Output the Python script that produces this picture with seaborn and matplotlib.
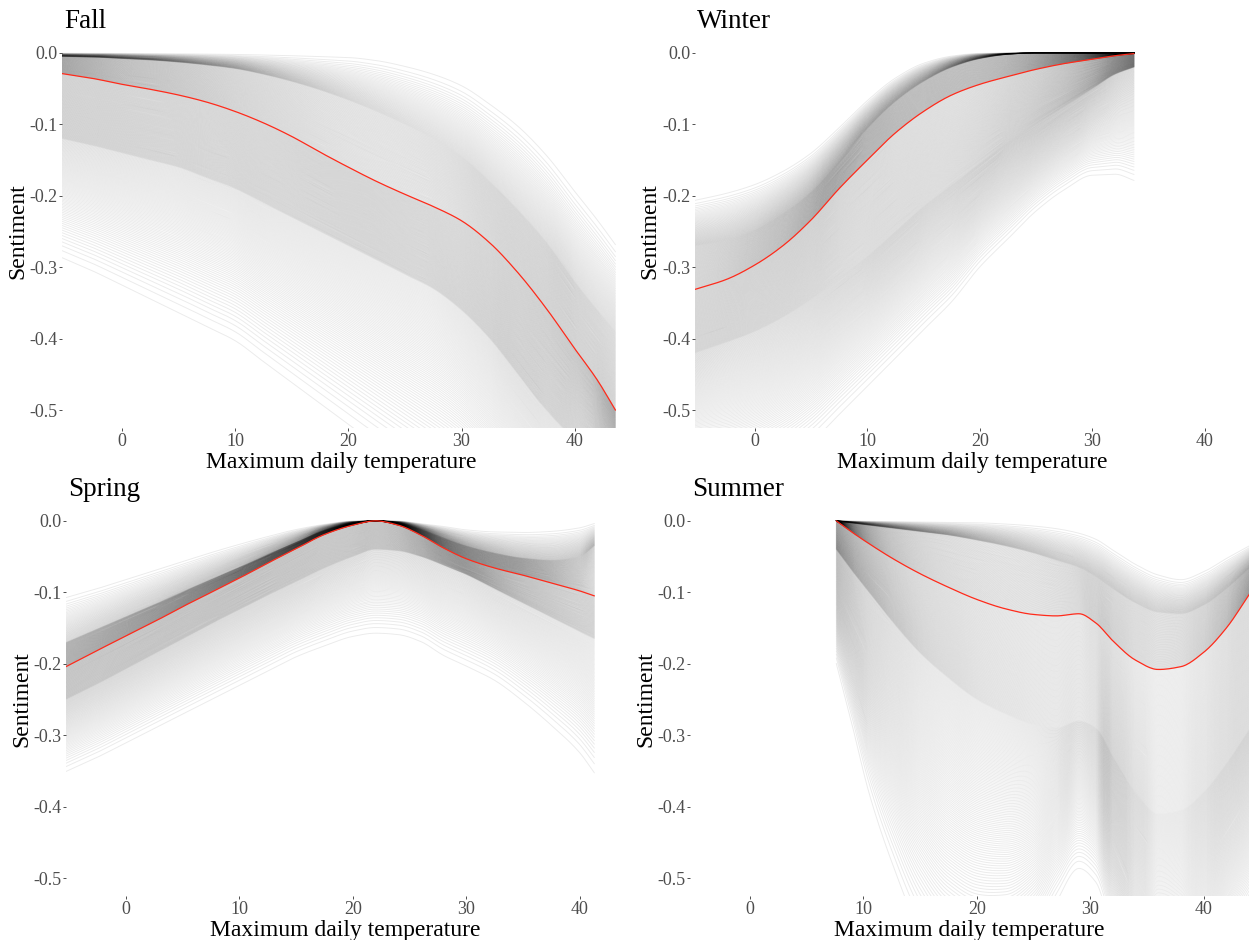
import numpy as np
import pandas as pd
import matplotlib
matplotlib.use("Agg")
import matplotlib.pyplot as plt
import seaborn as sns

# ---------------------------------------------------------------------------
# Bootstrap bands of the temperature/sentiment smooth, per season.
# Each season: knot temperatures, the upper edge of the band, the upper dense
# edge, the full-sample fit (red), the lower dense edge and the lower edge.
# ---------------------------------------------------------------------------
fall_temp = [-5.3, -2.5, 0, 2.5, 5, 7.5, 10, 12.5, 15, 17.5, 20, 22.5, 25,
             27.5, 30, 32.5, 35, 37.5, 40, 42, 43.6]
fall_upper = [0, 0, 0, 0, 0, 0, 0, 0, 0, 0, 0, -0.003, -0.01, -0.02, -0.035,
              -0.06, -0.09, -0.13, -0.18, -0.22, -0.255]
fall_dense_hi = [-0.005, -0.006, -0.008, -0.01, -0.013, -0.017, -0.022, -0.03,
                 -0.04, -0.052, -0.066, -0.082, -0.1, -0.12, -0.145, -0.18,
                 -0.22, -0.265, -0.32, -0.36, -0.39]
fall_fit = [-0.029, -0.036, -0.044, -0.051, -0.059, -0.069, -0.082, -0.098,
            -0.117, -0.139, -0.160, -0.180, -0.198, -0.215, -0.235, -0.266,
            -0.308, -0.358, -0.414, -0.458, -0.5]
fall_dense_lo = [-0.12, -0.13, -0.14, -0.15, -0.16, -0.175, -0.19, -0.21,
                 -0.23, -0.25, -0.27, -0.29, -0.31, -0.33, -0.36, -0.4, -0.45,
                 -0.5, -0.54, -0.56, -0.58]
fall_lower = [-0.3, -0.32, -0.34, -0.36, -0.38, -0.4, -0.42, -0.45, -0.48,
              -0.51, -0.54, -0.57, -0.6, -0.63, -0.66, -0.7, -0.74, -0.78,
              -0.82, -0.85, -0.88]

winter_temp = [-5.3, -2.5, 0, 2.5, 5, 7.5, 10, 12.5, 15, 17.5, 20, 22.5, 25,
               27.5, 30, 32, 33.7]
winter_upper = [-0.2, -0.19, -0.178, -0.16, -0.135, -0.1, -0.063, -0.032,
                -0.012, -0.003, 0, 0, 0, 0, 0, 0, 0]
winter_dense_hi = [-0.27, -0.262, -0.248, -0.225, -0.195, -0.152, -0.106,
                   -0.068, -0.04, -0.02, -0.008, -0.002, 0, 0, 0, 0, 0]
winter_fit = [-0.331, -0.317, -0.297, -0.27, -0.234, -0.19, -0.150, -0.112,
              -0.082, -0.059, -0.044, -0.033, -0.023, -0.015, -0.009, -0.004,
              -0.001]
winter_dense_lo = [-0.42, -0.405, -0.39, -0.37, -0.345, -0.315, -0.285, -0.25,
                   -0.215, -0.185, -0.155, -0.125, -0.1, -0.075, -0.05, -0.03,
                   -0.02]
winter_lower = [-0.62, -0.62, -0.61, -0.59, -0.56, -0.52, -0.48, -0.44, -0.4,
                -0.36, -0.31, -0.27, -0.23, -0.2, -0.18, -0.18, -0.19]

spring_temp = [-5.3, -2.5, 0, 2.5, 5, 7.5, 10, 12.5, 15, 17.5, 20, 22, 24, 26,
               28, 30, 32.5, 35, 37.5, 40, 41.3]
spring_upper = [-0.1, -0.088, -0.076, -0.064, -0.052, -0.04, -0.029, -0.019,
                -0.01, -0.004, 0, 0, 0, -0.003, -0.006, -0.01, -0.012, -0.012,
                -0.01, -0.005, 0]
spring_dense_hi = [-0.17, -0.151, -0.134, -0.117, -0.099, -0.082, -0.065,
                   -0.047, -0.03, -0.013, -0.003, 0, -0.003, -0.012, -0.024,
                   -0.035, -0.045, -0.052, -0.055, -0.05, -0.035]
spring_fit = [-0.204, -0.181, -0.161, -0.141, -0.120, -0.100, -0.080, -0.059,
              -0.039, -0.019, -0.006, 0, -0.006, -0.02, -0.038, -0.053,
              -0.066, -0.076, -0.087, -0.098, -0.105]
spring_dense_lo = [-0.25, -0.228, -0.207, -0.186, -0.165, -0.144, -0.124,
                   -0.104, -0.085, -0.066, -0.05, -0.04, -0.042, -0.05, -0.062,
                   -0.075, -0.095, -0.115, -0.135, -0.155, -0.165]
spring_lower = [-0.36, -0.34, -0.32, -0.3, -0.28, -0.26, -0.24, -0.22, -0.2,
                -0.185, -0.172, -0.168, -0.17, -0.18, -0.2, -0.215, -0.235,
                -0.265, -0.3, -0.34, -0.37]

summer_temp = [7.6, 9, 10.5, 12.5, 15, 17.5, 20, 22.5, 25, 27, 29, 30.5, 32,
               34, 36, 38, 40, 42, 44.1]
summer_upper = [0, 0, 0, 0, 0, 0, 0, -0.001, -0.003, -0.006, -0.012, -0.02,
                -0.035, -0.055, -0.07, -0.077, -0.066, -0.048, -0.031]
summer_dense_hi = [0, -0.003, -0.006, -0.01, -0.015, -0.02, -0.027, -0.035,
                   -0.045, -0.055, -0.065, -0.078, -0.095, -0.115, -0.128,
                   -0.13, -0.118, -0.095, -0.065]
summer_fit = [0, -0.016, -0.032, -0.052, -0.074, -0.093, -0.110, -0.123,
              -0.131, -0.133, -0.130, -0.143, -0.168, -0.195, -0.208, -0.204,
              -0.184, -0.150, -0.101]
summer_dense_lo = [-0.04, -0.07, -0.1, -0.14, -0.185, -0.22, -0.25, -0.27,
                   -0.285, -0.29, -0.28, -0.29, -0.33, -0.38, -0.41, -0.405,
                   -0.38, -0.34, -0.29]
summer_lower = [-0.21, -0.3, -0.4, -0.5, -0.6, -0.66, -0.68, -0.67, -0.62,
                -0.55, -0.5, -0.52, -0.6, -0.7, -0.75, -0.74, -0.7, -0.64,
                -0.58]

season_names = ["Fall", "Winter", "Spring", "Summer"]
x_ticks = [0, 10, 20, 30, 40]
y_ticks = [0.0, -0.1, -0.2, -0.3, -0.4, -0.5]
x_label = "Maximum daily temperature"
y_label = "Sentiment"

seasons = {
    "Fall": (fall_temp, [fall_upper, fall_dense_hi, fall_fit, fall_dense_lo, fall_lower]),
    "Winter": (winter_temp, [winter_upper, winter_dense_hi, winter_fit, winter_dense_lo, winter_lower]),
    "Spring": (spring_temp, [spring_upper, spring_dense_hi, spring_fit, spring_dense_lo, spring_lower]),
    "Summer": (summer_temp, [summer_upper, summer_dense_hi, summer_fit, summer_dense_lo, summer_lower]),
}
# number of bootstrap draws falling between consecutive band edges
draws_per_band = {
    "Fall": [50, 90, 150, 90],
    "Winter": [60, 90, 130, 110],
    "Spring": [45, 95, 90, 70],
    "Summer": [50, 90, 130, 130],
}


def pchip(xk, yk, xs):
    """Shape-preserving piecewise cubic through the knots."""
    xk = np.asarray(xk, float)
    yk = np.asarray(yk, float)
    h = np.diff(xk)
    delta = np.diff(yk) / h
    n = len(xk)
    m = np.zeros(n)
    for k in range(1, n - 1):
        if delta[k - 1] * delta[k] > 0:
            w1 = 2 * h[k] + h[k - 1]
            w2 = h[k] + 2 * h[k - 1]
            m[k] = (w1 + w2) / (w1 / delta[k - 1] + w2 / delta[k])
    m[0] = delta[0]
    m[-1] = delta[-1]
    idx = np.clip(np.searchsorted(xk, xs) - 1, 0, n - 2)
    t = (xs - xk[idx]) / h[idx]
    h00 = 2 * t**3 - 3 * t**2 + 1
    h10 = t**3 - 2 * t**2 + t
    h01 = -2 * t**3 + 3 * t**2
    h11 = t**3 - t**2
    return (h00 * yk[idx] + h10 * h[idx] * m[idx]
            + h01 * yk[idx + 1] + h11 * h[idx] * m[idx + 1])


def band_positions(band, n):
    """Relative positions of draws inside a band; outer bands thin out
    linearly towards the outer edge."""
    s = (np.arange(n) + 0.5) / n
    if band == 0:
        return np.sqrt(s)
    if band == 3:
        return 1 - np.sqrt(1 - s)
    return s


def build_frames(name):
    temps, edges = seasons[name]
    xs = np.linspace(temps[0], temps[-1], 240)
    smooth = [pchip(temps, e, xs) for e in edges]
    rows = []
    draw = 0
    for band, n in enumerate(draws_per_band[name]):
        a, b = smooth[band], smooth[band + 1]
        for f in band_positions(band, n):
            rows.append(pd.DataFrame({"temp": xs, "sentiment": a + f * (b - a),
                                      "draw": draw}))
            draw += 1
    boot = pd.concat(rows, ignore_index=True)
    fit = pd.DataFrame({"temp": xs, "sentiment": smooth[2]})
    return boot, fit


sns.set_theme(style="white")
plt.rcParams["font.family"] = ["Liberation Serif", "DejaVu Serif"]
plt.rcParams["axes.unicode_minus"] = False

W, H = 1249, 940
fig = plt.figure(figsize=(W / 100, H / 100), dpi=100)

# panel rectangles in pixels: left, top, right, bottom
panels = {
    "Fall": (62, 35, 620, 428),
    "Winter": (695, 35, 1250, 428),
    "Spring": (66, 503, 625, 896),
    "Summer": (690, 503, 1249, 896),
}
ylab_x = {"Fall": 18, "Winter": 650, "Spring": 22, "Summer": 646}

for name in season_names:
    l, t, r, b = panels[name]
    ax = fig.add_axes([l / W, 1 - b / H, (r - l) / W, (b - t) / H])
    boot, fit = build_frames(name)
    sns.lineplot(data=boot, x="temp", y="sentiment", units="draw",
                 estimator=None, color="black", alpha=0.08, lw=0.7,
                 ax=ax, legend=False, sort=False)
    sns.lineplot(data=fit, x="temp", y="sentiment", color="#ff2a1a",
                 lw=0.9, ax=ax, legend=False, sort=False)
    ax.set_xlim(-5.3, 44.0)
    ax.set_ylim(-0.525, 0.025)
    ax.set_xticks(x_ticks)
    ax.set_xticklabels([str(v) for v in x_ticks])
    ax.set_yticks(y_ticks)
    ax.set_yticklabels([f"{v:.1f}" if v != 0 else "0.0" for v in y_ticks])
    for s in ax.spines.values():
        s.set_visible(False)
    ax.tick_params(axis="both", length=2, width=0.6, color="#333333",
                   labelsize=13, labelcolor="#4d4d4d", pad=1.5,
                   bottom=True, left=True)
    ax.set_xlabel("")
    ax.set_ylabel("")
    ax.set_facecolor("white")
    ax.grid(False)

    fig.text((l + 2) / W, 1 - (t - 7) / H, name, fontsize=19.5,
             color="black", ha="left", va="baseline")
    fig.text((l + r) / 2 / W, 1 - (b + 40) / H, x_label, fontsize=17,
             color="black", ha="center", va="baseline")
    fig.text(ylab_x[name] / W, 1 - (t + b) / 2 / H, y_label, fontsize=17,
             color="black", ha="center", va="center", rotation=90)

fig.savefig("out.png", dpi=100, facecolor="white")
